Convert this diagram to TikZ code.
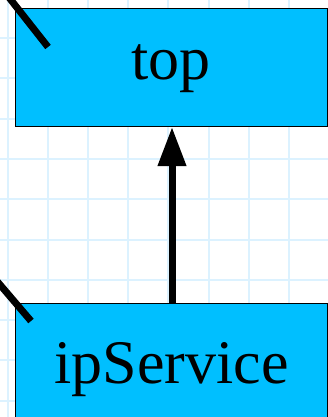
\documentclass[tikz,border=0pt]{standalone}
\usepackage{fontspec}
\setmainfont{Liberation Serif}
\usetikzlibrary{arrows.meta}
\definecolor{boxblue}{RGB}{0,191,255}
\definecolor{gridblue}{RGB}{220,242,255}
\tikzset{
  classbox/.style={draw=black, line width=1pt, fill=boxblue, minimum width=312pt, minimum height=118pt, inner sep=0pt},
  lbl/.style={font=\fontsize{62}{74}\selectfont, anchor=base, inner sep=0pt},
  link/.style={line width=7pt, draw=black},
  gridline/.style={draw=gridblue, line width=2pt}
}
\begin{document}
\begin{tikzpicture}[x=1pt, y=-1pt]
  \useasboundingbox (0,0) rectangle (328,417);
  \clip (0,0) rectangle (328,417);
  \fill[white] (0,0) rectangle (328,417);
  % grid
  \foreach \i in {0,...,7} {
    \draw[gridline] ({8+40.1*\i},0) -- ({8+40.1*\i},417);
  }
  \foreach \j in {-1,0,...,9} {
    \draw[gridline] (0,{38+40.3*\j}) -- (328,{38+40.3*\j});
  }
  % boxes
  \node[classbox, anchor=north west] (top) at (15,8) {};
  \node[lbl] (toplbl) at (171,80) {top};
  \node[classbox, anchor=north west] (ipsvc) at (15,303) {};
  \node[lbl] (ipsvclbl) at (171.5,383) {ipService};
  % dangling connectors
  \coordinate (a1) at (-4,-19);
  \coordinate (a2) at (48,47);
  \draw[link] (a1) -- (a2);
  \coordinate (b1) at (-10,273);
  \coordinate (b2) at (31,321);
  \draw[link] (b1) -- (b2);
  % arrow
  \draw[link, -{Triangle[length=39pt, width=27pt]}] (ipsvc.north -| 172,0) -- (top.south -| 172,0);
\end{tikzpicture}
\end{document}
